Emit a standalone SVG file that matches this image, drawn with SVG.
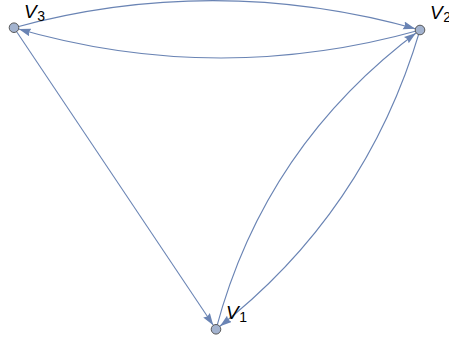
<svg xmlns="http://www.w3.org/2000/svg" width="449" height="341" viewBox="0 0 449 341">
<defs>
<style>
.edge{fill:none;stroke:#6a84b4;stroke-width:1.1;marker-end:url(#ah)}
.node{fill:#a3b3cf;stroke:#595959;stroke-width:1}
.lbl{font-family:"Liberation Sans",Arial,sans-serif;font-style:italic;font-size:19px;fill:#000}
.sub{font-size:14px;font-style:normal}
</style>
<marker id="ah" markerUnits="userSpaceOnUse" markerWidth="20" markerHeight="10" refX="17" refY="4" orient="auto">
<path d="M0,0 L12,4 L0,8 L1.5,4 z" fill="#6a84b4"/>
</marker>
</defs>
<rect width="449" height="341" fill="#fff"/>
<g id="edges">
<path class="edge" d="M14,27.7 Q217,-27.5 420,30"/>
<path class="edge" d="M420,30 Q217,87 14,27.7"/>
<path class="edge" d="M14,27.7 L216,329.3"/>
<path class="edge" d="M216,329.3 Q265,145 420,30"/>
<path class="edge" d="M420,30 Q366,213 216,329.3"/>
</g>
<g id="V3">
<circle class="node" cx="14" cy="27.7" r="4.8"/>
<text class="lbl" x="24" y="17.5">V<tspan class="sub" dx="0.5" dy="3">3</tspan></text>
</g>
<g id="V2">
<circle class="node" cx="420" cy="30" r="4.8"/>
<text class="lbl" x="430" y="19">V<tspan class="sub" dx="0.5" dy="3">2</tspan></text>
</g>
<g id="V1">
<circle class="node" cx="216" cy="329.3" r="4.8"/>
<text class="lbl" x="226" y="318.5">V<tspan class="sub" dx="0.5" dy="3">1</tspan></text>
</g>
</svg>
